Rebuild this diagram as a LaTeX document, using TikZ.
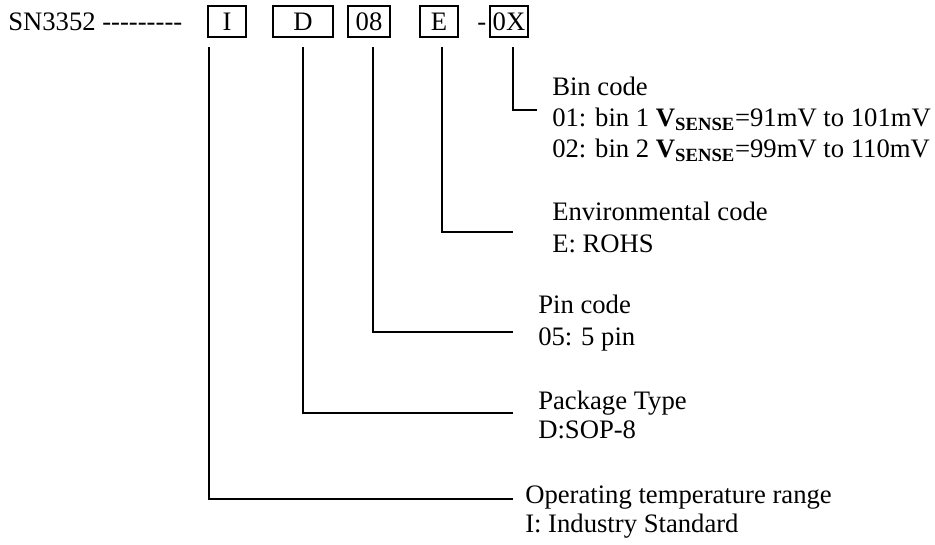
\documentclass[tikz,border=0pt]{standalone}
\usepackage{fontspec}
\setmainfont{Liberation Serif}
\usetikzlibrary{positioning}
\newcommand{\partdash}{\mbox{-}}

\tikzset{
  codebox/.style={draw, line width=1.1pt, minimum height=23pt, inner sep=0pt},
  desc/.style={anchor=base west, inner sep=0pt},
  hookline/.style={line width=1.1pt}
}

\begin{document}
\begin{tikzpicture}[x=0.75pt, y=-0.75pt, font=\fontsize{20}{23}\selectfont]
\useasboundingbox (0,0) rectangle (935,544);

% Part number
\node[desc] (part) at (8,30) {SN3352 \partdash\partdash\partdash\partdash\partdash\partdash\partdash\partdash\partdash};

% Code boxes
\foreach \n/\x/\w/\txt in {I/227/28.5/I, D/303/45/D, pin/369/31.5/08, E/439/28.5/E, bin/509/28.5/0X}
  \node[codebox, minimum width=\w pt] (b\n) at (\x,21.5) {\txt};
\node[desc] (dash) at (477,30) {-};

% Where the leads leave the boxes
\coordinate (sI) at (209,47);
\coordinate (sD) at (303,47);
\coordinate (spin) at (373,47);
\coordinate (sE) at (442,47);
\coordinate (sbin) at (513,47);

% Where the leads end
\coordinate (hbin) at (537,110);
\coordinate (hE) at (513,232);
\coordinate (hpin) at (513,332);
\coordinate (hD) at (513,413);
\coordinate (hI) at (513,499);

% Descriptions
\node[desc] (binH) at (552,95) {Bin code};
\node[desc] (binA) at (552,126) {01: bin 1 \textbf{V\textsubscript{SENSE}}=91mV to 101mV};
\node[desc] (binB) at (552,157) {02: bin 2 \textbf{V\textsubscript{SENSE}}=99mV to 110mV};
\node[desc] (envH) at (552,220) {Environmental code};
\node[desc] (envA) at (552,252) {E: ROHS};
\node[desc] (pinH) at (538,313) {Pin code};
\node[desc] (pinA) at (538,345) {05: 5 pin};
\node[desc] (pkgH) at (538,409) {Package Type};
\node[desc] (pkgA) at (538,438) {D:SOP-8};
\node[desc] (tempH) at (525,503) {Operating temperature range};
\node[desc] (tempA) at (525,532) {I: Industry Standard};

% Leads
\draw[hookline] (sbin) |- (hbin);
\draw[hookline] (sE) |- (hE);
\draw[hookline] (spin) |- (hpin);
\draw[hookline] (sD) |- (hD);
\draw[hookline] (sI) |- (hI);

\end{tikzpicture}
\end{document}
